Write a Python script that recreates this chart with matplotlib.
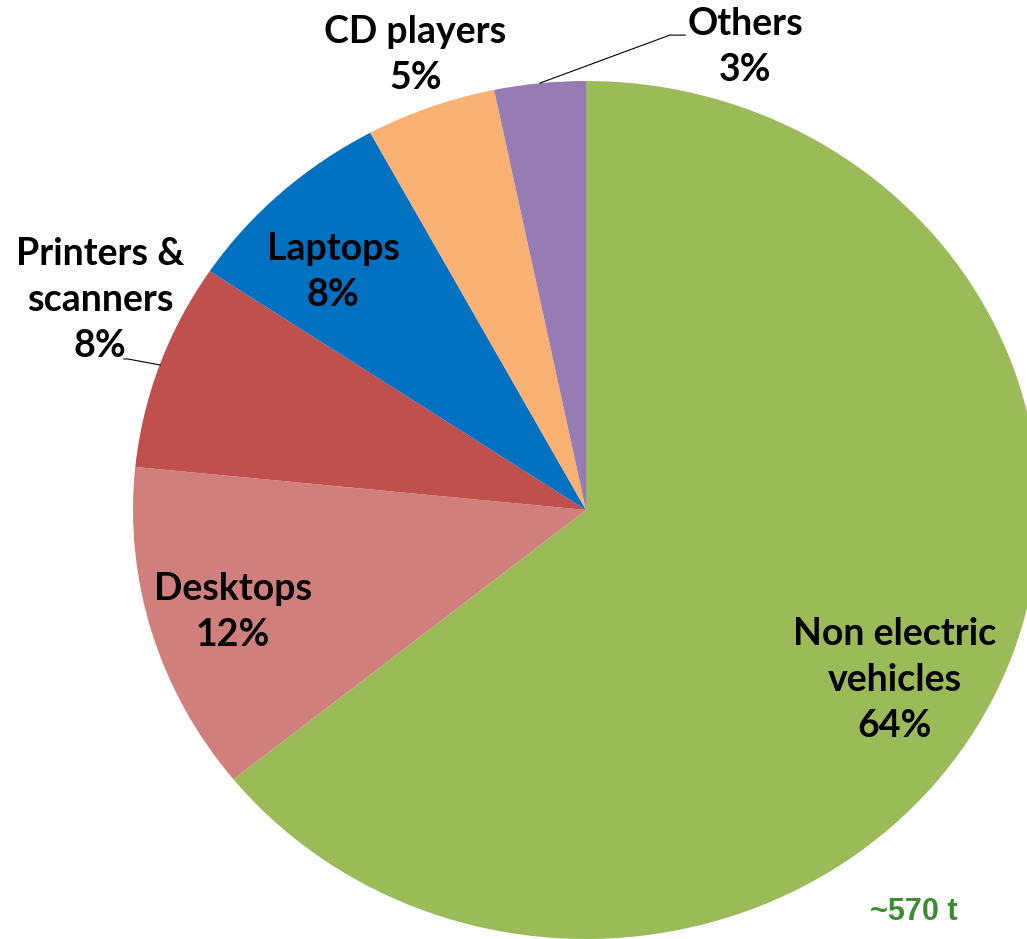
import matplotlib
matplotlib.use("Agg")
import matplotlib.pyplot as plt

# Доли (подписи округлены как в оригинале)
categories = ["Non electric\nvehicles", "Desktops", "Printers &\nscanners", "Laptops", "CD players", "Others"]
shares = [64.2, 12.4, 7.8, 7.7, 4.65, 3.25]
share_labels = ["64%", "12%", "8%", "8%", "5%", "3%"]
colors = ["#9BBB59", "#D17F7C", "#C0504D", "#0070C0", "#F8B073", "#967CB3"]
total_label = "~570 t"

# Позиции подписей в координатах пирога
label_pos = [(0.682, -0.396), (-0.779, -0.238), (-1.073, 0.490),
             (-0.558, 0.555), (-0.377, 1.061), (0.351, 1.079)]

fig = plt.figure(figsize=(10.27, 9.39), dpi=100)
ax = fig.add_axes([133 / 1027, 0.0, 906 / 1027, 858 / 939])

ax.pie(shares, colors=colors, startangle=90, counterclock=False,
       wedgeprops={"linewidth": 0})
ax.set_aspect("auto")
ax.set_xlim(-1, 1)
ax.set_ylim(-1, 1)
ax.axis("off")

for name, pct, (x, y) in zip(categories, share_labels, label_pos):
    ax.text(x, y, name + "\n" + pct, ha="center", va="center", fontsize=27,
            fontweight="bold", family="Lato", linespacing=1.42, clip_on=False)

# Линии-выноски
ax.plot([-0.102, 0.185, 0.219], [0.995, 1.107, 1.107], color="black", lw=0.8, clip_on=False)
ax.plot([-0.940, -1.011, -1.020], [0.338, 0.352, 0.352], color="black", lw=0.8, clip_on=False)

fig.text(914 / 1027, 1 - 912 / 939, total_label, ha="center", va="center", fontsize=22,
         fontweight="bold", family="Liberation Sans", color="#3C8D2F")

fig.savefig("out.png", dpi=100)
